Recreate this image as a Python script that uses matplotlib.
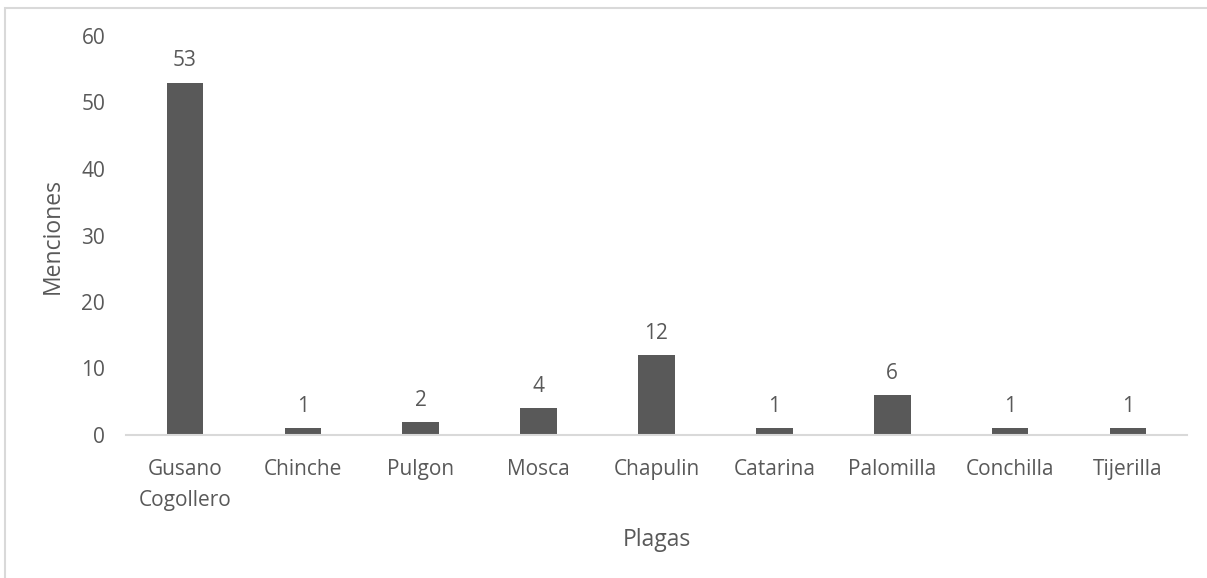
import matplotlib
matplotlib.use("Agg")
import matplotlib.pyplot as plt
from matplotlib.patches import Rectangle

categories = ["Gusano\nCogollero", "Chinche", "Pulgon", "Mosca", "Chapulin",
              "Catarina", "Palomilla", "Conchilla", "Tijerilla"]
values = [53, 1, 2, 4, 12, 1, 6, 1, 1]
yticks = [0, 10, 20, 30, 40, 50, 60]

plt.rcParams['font.family'] = ['Open Sans', 'DejaVu Sans']
text_color = "#595959"
bar_color = "#595959"
line_color = "#d9d9d9"

W, H = 1207, 578
fig = plt.figure(figsize=(W / 100, H / 100), dpi=100)
fig.patches.append(Rectangle((5 / W, -0.1), 1.2, (578 - 8) / H + 0.1,
                             transform=fig.transFigure, fill=False,
                             edgecolor=line_color, linewidth=1.5))

ax = fig.add_axes([126 / W, (H - 435) / H, (1187 - 126) / W, (435 - 36) / H])
x = list(range(len(categories)))
bars = ax.bar(x, values, width=0.31, color=bar_color)
ax.set_xlim(-0.5, len(categories) - 0.5)
ax.set_ylim(0, 60)
ax.set_yticks(yticks)
ax.set_xticks(x)
ax.set_xticklabels(categories, fontsize=15, color=text_color, linespacing=1.65)
ax.tick_params(axis='y', labelsize=15, labelcolor=text_color, length=0, pad=15)
ax.tick_params(axis='x', length=0, pad=17)
for s in ["top", "right", "left"]:
    ax.spines[s].set_visible(False)
ax.spines["bottom"].set_color(line_color)
ax.spines["bottom"].set_linewidth(1.5)

for xi, v in zip(x, values):
    ax.annotate(str(v), (xi, v), xytext=(0, 8), textcoords="offset points",
                ha="center", va="bottom", fontsize=15, color=text_color)

ax.set_ylabel("Menciones", fontsize=16.5, color=text_color)
ax.yaxis.set_label_coords(-0.058, 0.5)
ax.set_xlabel("Plagas", fontsize=16.5, color=text_color, labelpad=12)

fig.savefig("out.png", dpi=100)
